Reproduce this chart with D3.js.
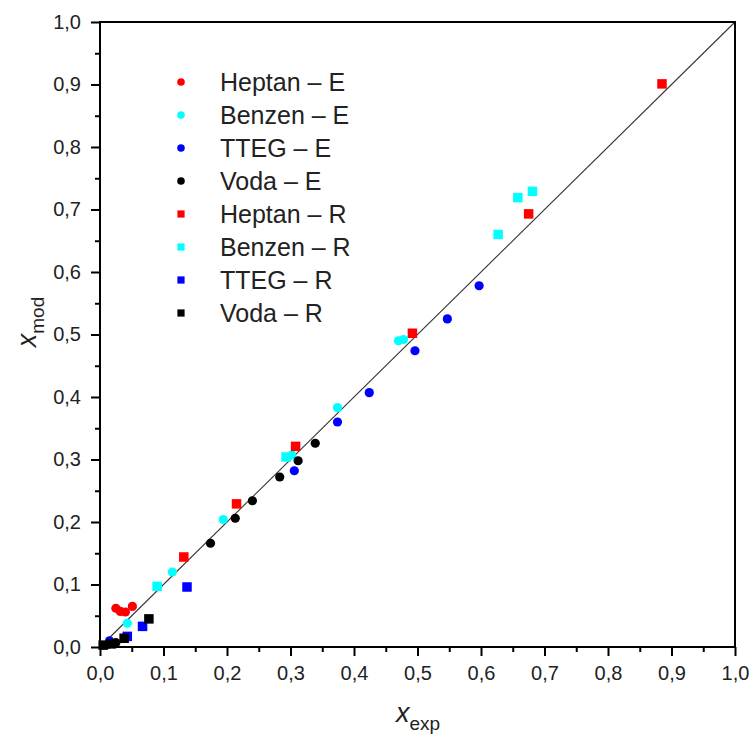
<!DOCTYPE html>
<html>
<head>
<meta charset="utf-8">
<script src="https://cdn.jsdelivr.net/npm/d3@7"></script>
<style>
  html, body { margin: 0; padding: 0; background: #fff; }
  svg { display: block; font-family: "Liberation Sans", Arial, sans-serif; }
</style>
</head>
<body>
<svg id="chart" width="753" height="745"></svg>
<script>
// ---- data ----
const heptanE = [[0.025,0.062],[0.032,0.057],[0.040,0.056],[0.051,0.065]];
const benzenE = [[0.043,0.038],[0.114,0.120],[0.194,0.204],[0.302,0.307],[0.374,0.383],[0.470,0.490],[0.478,0.492]];
const ttegE   = [[0.015,0.010],[0.306,0.282],[0.374,0.360],[0.424,0.407],[0.496,0.474],[0.547,0.525],[0.597,0.578]];
const vodaE   = [[0.012,0.004],[0.025,0.007],[0.174,0.166],[0.213,0.206],[0.240,0.234],[0.283,0.272],[0.312,0.298],[0.339,0.326]];
const heptanR = [[0.132,0.144],[0.215,0.229],[0.308,0.321],[0.492,0.502],[0.675,0.693],[0.885,0.901]];
const benzenR = [[0.090,0.097],[0.293,0.304],[0.627,0.660],[0.658,0.719],[0.681,0.729]];
const ttegR   = [[0.043,0.017],[0.067,0.033],[0.137,0.096]];
const vodaR   = [[0.005,0.003],[0.018,0.005],[0.038,0.014],[0.077,0.045]];

const seriesNames  = ["Heptan – E","Benzen – E","TTEG – E","Voda – E","Heptan – R","Benzen – R","TTEG – R","Voda – R"];
const seriesColors = ["#ff0000","#00ffff","#0000ff","#000000","#ff0000","#00ffff","#0000ff","#000000"];
const seriesShapes = ["circle","circle","circle","circle","square","square","square","square"];
const seriesData   = [heptanE, benzenE, ttegE, vodaE, heptanR, benzenR, ttegR, vodaR];
const tickValues   = [0,0.1,0.2,0.3,0.4,0.5,0.6,0.7,0.8,0.9,1.0];
const minorTicks   = [0.05,0.15,0.25,0.35,0.45,0.55,0.65,0.75,0.85,0.95];
const fmt = v => v.toFixed(1).replace(".", ",");

// ---- layout ----
const svg = d3.select("#chart");
const L = 100, R = 735, T = 22, B = 647;
const x = d3.scaleLinear().domain([0,1]).range([L,R]);
const y = d3.scaleLinear().domain([0,1]).range([B,T]);

// diagonal
svg.append("line")
  .attr("x1", x(0)).attr("y1", y(0)).attr("x2", x(1)).attr("y2", y(1))
  .attr("stroke", "#333").attr("stroke-width", 1.1);

// points
seriesData.forEach((data, i) => {
  const g = svg.append("g");
  if (seriesShapes[i] === "circle") {
    g.selectAll("circle").data(data).join("circle")
      .attr("cx", d => x(d[0])).attr("cy", d => y(d[1])).attr("r", 4.6)
      .attr("fill", seriesColors[i]);
  } else {
    const s = 9.5;
    g.selectAll("rect").data(data).join("rect")
      .attr("x", d => x(d[0]) - s/2).attr("y", d => y(d[1]) - s/2)
      .attr("width", s).attr("height", s)
      .attr("fill", seriesColors[i]);
  }
});

// frame
svg.append("rect").attr("x", L).attr("y", T).attr("width", R-L).attr("height", B-T)
  .attr("fill", "none").attr("stroke", "#000").attr("stroke-width", 2);

// axes
const xAxis = svg.append("g").attr("transform", `translate(0,${B})`)
  .call(d3.axisBottom(x).tickValues(tickValues).tickFormat(fmt).tickSize(9).tickPadding(9));
const xMinor = svg.append("g").attr("transform", `translate(0,${B})`)
  .call(d3.axisBottom(x).tickValues(minorTicks).tickFormat("").tickSize(5));
const yAxis = svg.append("g").attr("transform", `translate(${L},0)`)
  .call(d3.axisLeft(y).tickValues(tickValues).tickFormat(fmt).tickSize(9).tickPadding(10));
const yMinor = svg.append("g").attr("transform", `translate(${L},0)`)
  .call(d3.axisLeft(y).tickValues(minorTicks).tickFormat("").tickSize(5));

[xAxis, xMinor, yAxis, yMinor].forEach(a => {
  a.select(".domain").remove();
  a.selectAll(".tick line").attr("stroke", "#000").attr("stroke-width", 2);
  a.selectAll(".tick text").attr("fill", "#222").style("font-size", "20px")
    .style("font-family", '"Liberation Sans", Arial, sans-serif');
});
xAxis.selectAll(".tick text").attr("dy", "0.75em");

// axis titles
const xt = svg.append("text").attr("x", 418).attr("y", 722).attr("text-anchor", "middle")
  .style("font-size", "27px").attr("fill", "#222");
xt.append("tspan").attr("font-style", "italic").text("x");
xt.append("tspan").attr("dy", 8).style("font-size", "19px").text("exp");

const yt = svg.append("text").attr("transform", "translate(36,322) rotate(-90)")
  .attr("text-anchor", "middle").style("font-size", "27px").attr("fill", "#222");
yt.append("tspan").attr("font-style", "italic").text("x");
yt.append("tspan").attr("dy", 8).style("font-size", "19px").text("mod");

// legend
const lg = svg.append("g");
seriesNames.forEach((name, i) => {
  const cy = 82 + i * 33;
  if (seriesShapes[i] === "circle") {
    lg.append("circle").attr("cx", 181).attr("cy", cy).attr("r", 3.8).attr("fill", seriesColors[i]);
  } else {
    lg.append("rect").attr("x", 181 - 3.6).attr("y", cy - 3.6).attr("width", 7.2).attr("height", 7.2)
      .attr("fill", seriesColors[i]);
  }
  lg.append("text").attr("x", 220).attr("y", cy).attr("dy", "0.36em")
    .style("font-size", "25px").attr("fill", "#222").text(name);
});
</script>
</body>
</html>
